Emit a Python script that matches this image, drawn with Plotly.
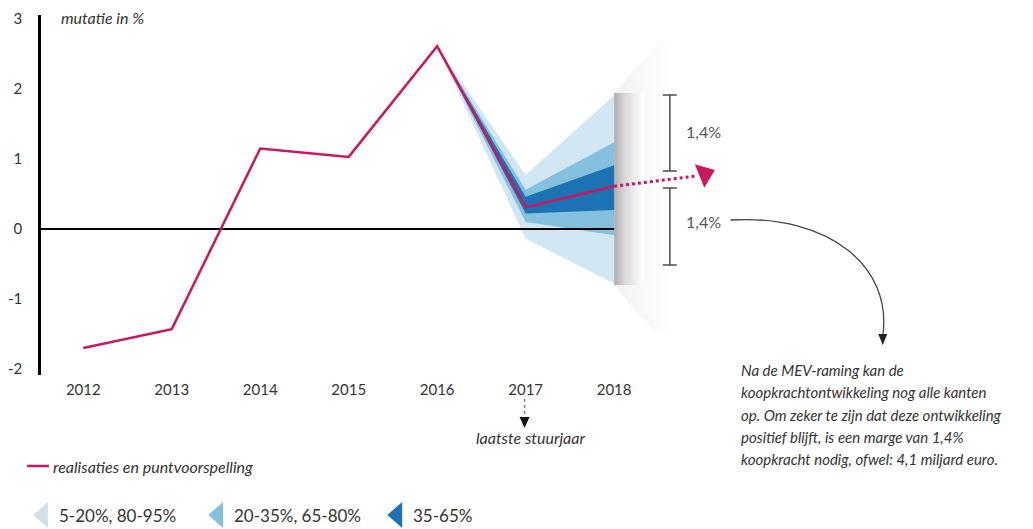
import plotly.graph_objects as go

# ---------------- data ----------------
years = [2012, 2013, 2014, 2015, 2016, 2017, 2018]
koopkracht = [-1.70, -1.43, 1.15, 1.03, 2.61, 0.31, 0.61]

fan_years = [2016, 2017, 2018]
p05 = [2.61, -0.14, -0.78]
p20 = [2.61, 0.10, -0.09]
p35 = [2.61, 0.22, 0.27]
p65 = [2.61, 0.46, 0.91]
p80 = [2.61, 0.56, 1.24]
p95 = [2.61, 0.77, 1.91]

y_ticks = [-2, -1, 0, 1, 2, 3]
y_ticktext = ["-2", "-1", "0", "1", "2", "3"]

legend_line = "realisaties en puntvoorspelling"
legend_bands = ["5-20%, 80-95%", "20-35%, 65-80%", "35-65%"]
note_lines = [
    "Na de MEV-raming kan de",
    "koopkrachtontwikkeling nog alle kanten",
    "op. Om zeker te zijn dat deze ontwikkeling",
    "positief blijft, is een marge van 1,4%",
    "koopkracht nodig, ofwel: 4,1 miljard euro.",
]
marge_label = "1,4%"

# ---------------- styling ----------------
OFF = 8  # default page body margin
W, H = 1033 - OFF, 529 - OFF
# target screen positions
AXIS_X, PLOT_TOP, PLOT_BOT = 36, 15, 375
ML, MT, MR, MB = AXIS_X - OFF, PLOT_TOP - OFF, 0, H - (PLOT_BOT - OFF)
MAGENTA = "#c9195e"
C_LIGHT = "#d2e7f4"
C_MID = "#85c1df"
C_DARK = "#1d72b3"
TXT = "#333333"
FONT = "Lato"

# screen-pixel helpers (for decorations only)
X0PX, XSTEP = 78.5, 88.92
Y0PX, YSTEP = 229.0, 70.0


def X(px):
    return 2012 + (px - X0PX) / XSTEP


def Y(py):
    return (Y0PX - py) / YSTEP


def PX(px):
    return (px - AXIS_X) / (W - ML - MR)


def PY(py):
    return (PLOT_BOT - py) / (PLOT_BOT - PLOT_TOP)


x_range = [X(AXIS_X), X(AXIS_X + W - ML - MR)]
y_range = [Y(PLOT_BOT), Y(PLOT_TOP)]

fig = go.Figure()


def band(lo, hi, color):
    xs = fan_years + fan_years[::-1]
    ys = hi + lo[::-1]
    fig.add_trace(go.Scatter(x=xs, y=ys, fill="toself", fillcolor=color,
                             line=dict(width=0), mode="lines",
                             hoverinfo="skip", showlegend=False))


# grey "page" panel behind right edge of fan
fig.add_trace(go.Scatter(
    x=[X(612), X(658), X(668), X(668), X(650), X(612)],
    y=[Y(93), Y(42), Y(42), Y(335), Y(330), Y(285)],
    fill="toself", mode="lines", line=dict(width=0),
    fillgradient=dict(type="horizontal",
                      colorscale=[[0, "#f1f1f1"], [1, "#ffffff"]]),
    hoverinfo="skip", showlegend=False))
fig.add_trace(go.Scatter(
    x=[X(612), X(642), X(642), X(612)],
    y=[Y(93), Y(93), Y(285), Y(285)],
    fill="toself", mode="lines", line=dict(width=0),
    fillgradient=dict(type="horizontal",
                      colorscale=[[0, "#acacac"], [0.35, "#d8d8d8"], [1, "#ffffff"]]),
    hoverinfo="skip", showlegend=False))

band(p05, p95, C_LIGHT)
band(p20, p80, C_MID)
band(p35, p65, C_DARK)

# zero line (axis reference)
fig.add_trace(go.Scatter(x=[x_range[0], 2018], y=[0, 0], mode="lines",
                         line=dict(color="black", width=2),
                         hoverinfo="skip", showlegend=False))

# main series
fig.add_trace(go.Scatter(x=years, y=koopkracht, mode="lines",
                         line=dict(color=MAGENTA, width=2.5),
                         showlegend=False))

# dotted magenta arrow
fig.add_trace(go.Scatter(x=[years[-1], X(694)], y=[koopkracht[-1], Y(176)],
                         mode="lines", line=dict(color=MAGENTA, width=3, dash="dot"),
                         hoverinfo="skip", showlegend=False))
fig.add_trace(go.Scatter(x=[X(703)], y=[Y(174)], mode="markers",
                         marker=dict(symbol="triangle-right", size=22, angle=-22,
                                     color=MAGENTA),
                         hoverinfo="skip", showlegend=False))

shapes = []
# brackets
for (t, b) in [(95, 171), (188, 265)]:
    shapes.append(dict(type="line", xref="paper", yref="paper",
                       x0=PX(668), x1=PX(668), y0=PY(t), y1=PY(b),
                       line=dict(color="#555555", width=1.6)))
    for yy in (t, b):
        shapes.append(dict(type="line", xref="paper", yref="paper",
                           x0=PX(661), x1=PX(675), y0=PY(yy), y1=PY(yy),
                           line=dict(color="#555555", width=1.6)))

# curved arrow to the note
shapes.append(dict(type="path", xref="paper", yref="paper",
                   path=f"M {PX(729)},{PY(220)} C {PX(830)},{PY(214)} {PX(892)},{PY(268)} {PX(882)},{PY(336)}",
                   line=dict(color="#444444", width=1.3)))
shapes.append(dict(type="path", xref="paper", yref="paper",
                   path=f"M {PX(877.5)},{PY(334)} L {PX(886.5)},{PY(334)} L {PX(882)},{PY(345)} Z",
                   fillcolor="#222222", line=dict(width=0)))

# dotted arrow under 2017
shapes.append(dict(type="line", xref="paper", yref="paper",
                   x0=PX(522), x1=PX(522), y0=PY(399), y1=PY(418),
                   line=dict(color="#888888", width=1.5, dash="dot")))
shapes.append(dict(type="path", xref="paper", yref="paper",
                   path=f"M {PX(517)},{PY(417)} L {PX(527)},{PY(417)} L {PX(522)},{PY(428)} Z",
                   fillcolor="#111111", line=dict(width=0)))

# legend: line sample
shapes.append(dict(type="line", xref="paper", yref="paper",
                   x0=PX(22), x1=PX(44), y0=PY(466), y1=PY(466),
                   line=dict(color=MAGENTA, width=2.5)))
# legend: triangles
tri_x = [28, 204, 384]
tri_cols = ["#d4e0e7", C_MID, C_DARK]
for tx, col in zip(tri_x, tri_cols):
    shapes.append(dict(type="path", xref="paper", yref="paper",
                       path=f"M {PX(tx)},{PY(515)} L {PX(tx + 15)},{PY(502)} L {PX(tx + 15)},{PY(528)} Z",
                       fillcolor=col, line=dict(width=0)))

annotations = []
annotations.append(dict(text="mutatie in %", xref="paper", yref="paper",
                        x=PX(54), y=PY(18), xanchor="left", yanchor="middle",
                        showarrow=False,
                        font=dict(family=FONT, size=16, color=TXT, style="italic")))
for yy in (132, 222):
    annotations.append(dict(text=marge_label, xref="paper", yref="paper",
                            x=PX(682), y=PY(yy), xanchor="left", yanchor="middle",
                            showarrow=False,
                            font=dict(family=FONT, size=16, color="#555555")))
annotations.append(dict(text="laatste stuurjaar", xref="paper", yref="paper",
                        x=PX(528), y=PY(437), xanchor="center", yanchor="middle",
                        showarrow=False,
                        font=dict(family=FONT, size=16, color=TXT, style="italic")))
for i, line in enumerate(note_lines):
    annotations.append(dict(text=line, xref="paper", yref="paper",
                            x=PX(738), y=PY(370 + i * 22.3), xanchor="left",
                            yanchor="middle", showarrow=False,
                            font=dict(family=FONT, size=15, color=TXT, style="italic")))
annotations.append(dict(text=legend_line, xref="paper", yref="paper",
                        x=PX(46), y=PY(466), xanchor="left", yanchor="middle",
                        showarrow=False,
                        font=dict(family=FONT, size=16, color=TXT, style="italic")))
for tx, lab in zip(tri_x, legend_bands):
    annotations.append(dict(text=lab, xref="paper", yref="paper",
                            x=PX(tx + 24), y=PY(515), xanchor="left", yanchor="middle",
                            showarrow=False,
                            font=dict(family=FONT, size=17, color=TXT)))

fig.update_layout(
    width=W, height=H,
    margin=dict(l=ML, r=MR, t=MT, b=MB),
    paper_bgcolor="white", plot_bgcolor="white",
    showlegend=False,
    shapes=shapes, annotations=annotations,
    xaxis=dict(range=x_range, tickvals=years, ticktext=[str(y) for y in years],
               showgrid=False, zeroline=False, showline=False, ticks="",
               ticklabelstandoff=4,
               tickfont=dict(family=FONT, size=15, color=TXT)),
    yaxis=dict(range=y_range, tickvals=y_ticks, ticktext=y_ticktext,
               showgrid=False, zeroline=False, showline=True,
               linecolor="black", linewidth=2.5, ticks="",
               ticklabelstandoff=13,
               tickfont=dict(family=FONT, size=15, color=TXT)),
)

fig.write_html("out.html")
